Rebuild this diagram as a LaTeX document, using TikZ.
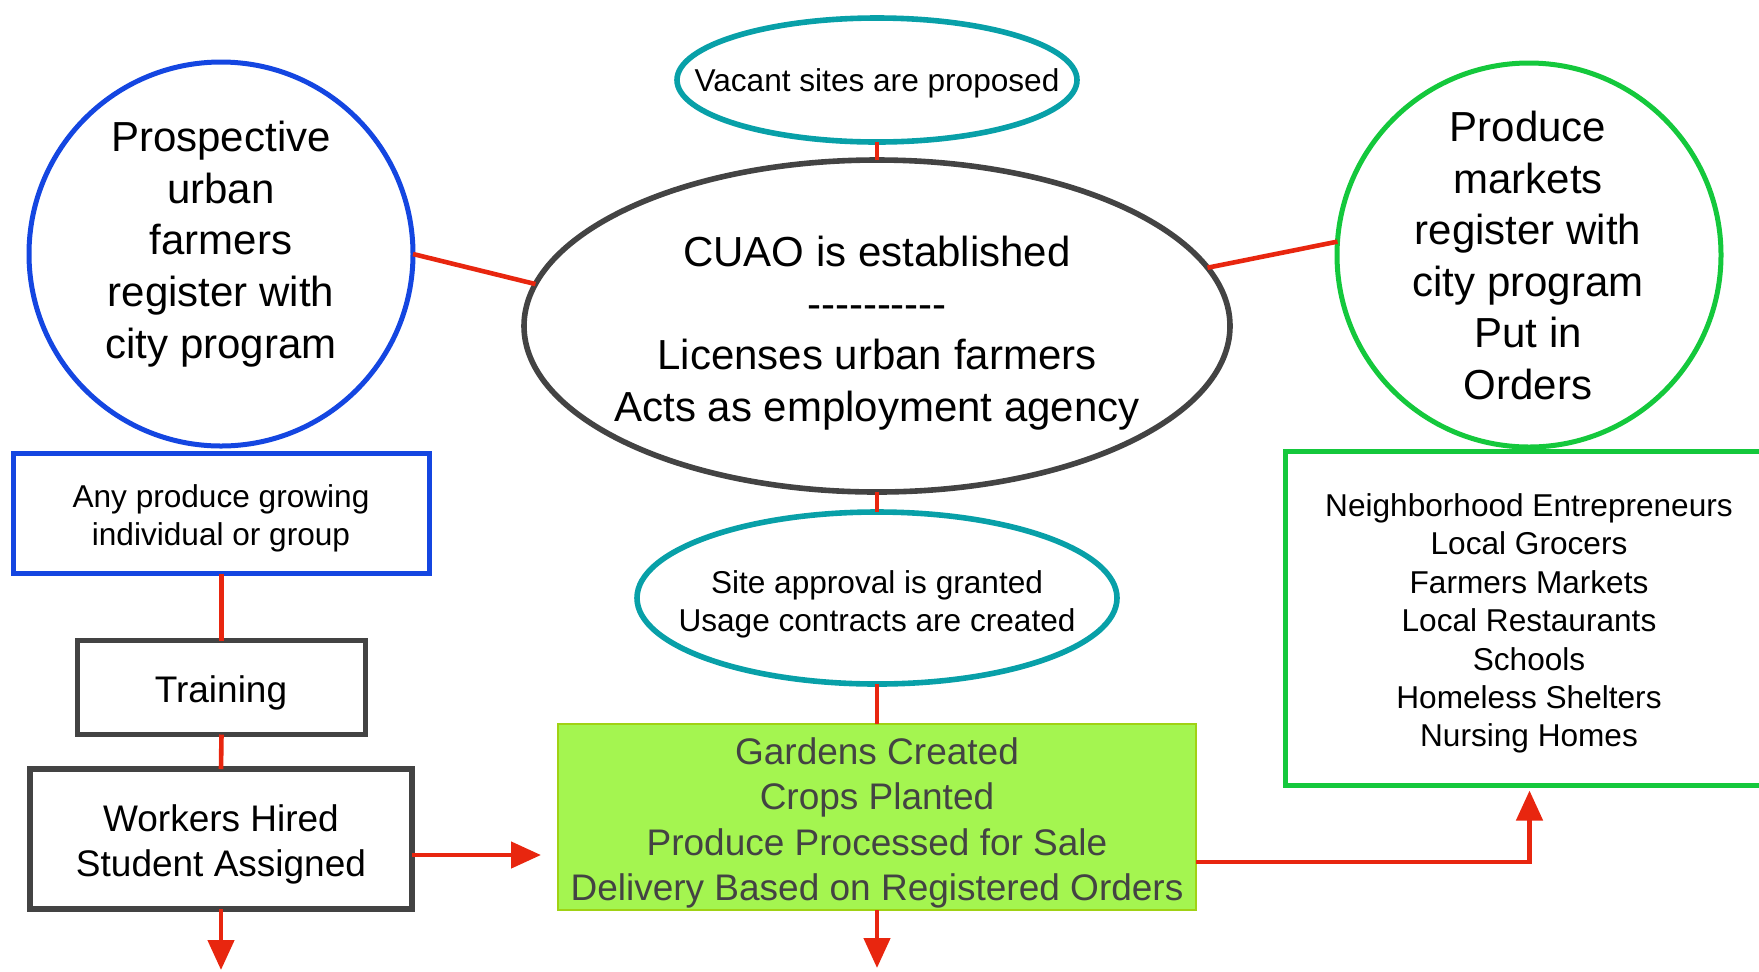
\documentclass[tikz,border=0pt]{standalone}
\usepackage{fontspec}
\setmainfont{Liberation Sans}
\usetikzlibrary{arrows.meta,shapes.geometric,calc}
\definecolor{teal1}{RGB}{8,160,168}
\definecolor{dgray}{RGB}{67,67,67}
\definecolor{blue1}{RGB}{20,70,225}
\definecolor{green1}{RGB}{20,200,60}
\definecolor{red1}{RGB}{232,38,15}
\definecolor{lime1}{RGB}{164,245,80}
\definecolor{limeb}{RGB}{160,210,20}
\tikzset{
  shp/.style={inner sep=0pt, outer sep=0pt},
  big/.style={font=\fontsize{21}{25.8}\selectfont, align=center},
  mid/.style={font=\fontsize{18.5}{22.6}\selectfont, align=center},
  sml/.style={font=\fontsize{15.8}{19.2}\selectfont, align=center},
  conn/.style={draw=red1, line width=2.3pt},
  arr/.style={conn, -{Triangle[length=15pt,width=13pt]}},
}
\begin{document}
\begin{tikzpicture}[x=0.5pt,y=-0.5pt]
\useasboundingbox (0,0) rectangle (1759,971);
\clip (0,0) rectangle (1759,971);
% shapes
\node[shp, ellipse, draw=teal1, line width=2.8pt, minimum width=200pt, minimum height=62pt] (vac) at (877,80) {};
\node[shp, ellipse, draw=dgray, line width=2.8pt, minimum width=353pt, minimum height=166pt] (cuao) at (877,326) {};
\node[shp, circle, draw=blue1, line width=2.5pt, minimum size=192pt] (lc) at (221,254) {};
\node[shp, circle, draw=green1, line width=2.5pt, minimum size=192pt] (rc) at (1529,255) {};
\node[shp, rectangle, draw=blue1, line width=2.5pt, minimum width=208pt, minimum height=60pt] (bbox) at (221.5,513.5) {};
\node[shp, rectangle, draw=dgray, line width=2.5pt, minimum width=144pt, minimum height=47pt] (train) at (221.5,687.5) {};
\node[shp, rectangle, draw=dgray, line width=2.8pt, minimum width=191pt, minimum height=70pt] (work) at (221,839) {};
\node[shp, ellipse, draw=teal1, line width=2.8pt, minimum width=240pt, minimum height=86pt] (site) at (877,598) {};
\node[shp, rectangle, fill=lime1, draw=limeb, line width=1pt, minimum width=319pt, minimum height=93pt] (gbox) at (877,817) {};
\node[shp, rectangle, draw=green1, line width=2.5pt, minimum width=244pt, minimum height=167pt] (rbox) at (1529.5,618.5) {};
% texts
\node[big] (lct) at (221,244) {Prospective\\urban\\farmers\\register with\\city program};
\node[big] (rct) at (1528,255.5) {Produce\\markets\\register with\\city program\\Put in\\Orders};
\node[big] (cuaot) at (877,333) {CUAO is established\\-{}-{}-{}-{}-{}-{}-{}-{}-{}-\\Licenses urban farmers\\Acts as employment agency};
\node[sml] (vact) at (877,83) {Vacant sites are proposed};
\node[sml] (sitet) at (877,604.5) {Site approval is granted\\Usage contracts are created};
\node[sml] (bboxt) at (221,518.5) {Any produce growing\\individual or group};
\node[mid] (traint) at (221,692.5) {Training};
\node[mid] (workt) at (221,844.5) {Workers Hired\\Student Assigned};
\node[mid, text=dgray] (gboxt) at (877,823) {Gardens Created\\Crops Planted\\Produce Processed for Sale\\Delivery Based on Registered Orders};
\node[sml] (rboxt) at (1529,623.5) {Neighborhood Entrepreneurs\\Local Grocers\\Farmers Markets\\Local Restaurants\\Schools\\Homeless Shelters\\Nursing Homes};
% connectors
\draw[conn] (vac.south) -- (cuao.north);
\draw[conn] (lc.east) -- (cuao.173);
\draw[conn] (cuao.10) -- (rc.176);
\draw[conn] (cuao.south) -- (site.north);
\draw[conn] (site.south) -- (gbox.north);
\draw[conn] (bbox.south) -- (train.north);
\draw[conn] (train.south) -- (work.north);
\coordinate (wa) at ([yshift=-8pt]work.east);
\draw[arr] (wa) -- ([xshift=-8.5pt]gbox.west |- wa);
\draw[arr] ([yshift=-22.5pt]gbox.east) -| ([yshift=-2.5pt]rbox.south);
\coordinate (wb) at (221,970);
\draw[arr] (work.south) -- (wb);
\coordinate (gb) at (877,968);
\draw[arr] (gbox.south) -- (gb);
\end{tikzpicture}
\end{document}
